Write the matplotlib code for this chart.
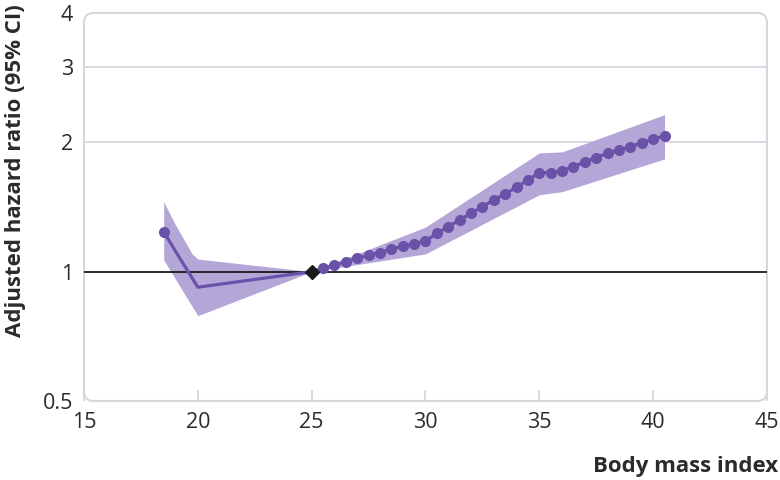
import matplotlib
matplotlib.use('Agg')
import matplotlib.pyplot as plt
from matplotlib.patches import FancyBboxPatch
from matplotlib.ticker import FixedLocator, NullLocator

# ==========================================
# DATA
# ==========================================
# underweight side: line from 18.5 down to 20 then to reference (25)
bmi_low = [18.5, 19.0, 19.5, 20.0, 25.0]
hr_low = [1.24, 1.12, 1.015, 0.92, 1.00]

# overweight side: dots every 0.5 BMI unit
bmi_high = [25.5, 26.0, 26.5, 27.0, 27.5, 28.0, 28.5, 29.0, 29.5, 30.0,
            30.5, 31.0, 31.5, 32.0, 32.5, 33.0, 33.5, 34.0, 34.5, 35.0,
            35.5, 36.0, 36.5, 37.0, 37.5, 38.0, 38.5, 39.0, 39.5, 40.0, 40.5]
hr_high = [1.018, 1.036, 1.055, 1.074, 1.092, 1.108, 1.128, 1.146, 1.162, 1.178,
           1.228, 1.273, 1.319, 1.368, 1.417, 1.469, 1.517, 1.572, 1.635, 1.700,
           1.700, 1.718, 1.756, 1.800, 1.843, 1.888, 1.920, 1.954, 1.998, 2.034, 2.070]

# confidence band knots
band_bmi = [18.5, 19.0, 19.5, 19.75, 20.0, 25.0, 30.0, 35.0, 36.0, 40.5]
band_lo = [1.065, 0.964, 0.872, 0.83, 0.79, 1.00, 1.10, 1.51, 1.535, 1.83]
band_hi = [1.455, 1.29, 1.16, 1.10, 1.07, 1.00, 1.27, 1.89, 1.90, 2.32]

ref_bmi = 25.0
ref_hr = 1.0

x_ticks = [15, 20, 25, 30, 35, 40, 45]
y_ticks = [0.5, 1, 2, 3, 4]
y_ticklabels = ['0.5', '1', '2', '3', '4']

PURPLE = '#6a52a8'
BAND = '#b4a7d8'
FRAME = '#d6d6de'
TEXT = '#2b2b2b'

plt.rcParams['font.family'] = ['Open Sans', 'DejaVu Sans']

fig = plt.figure(figsize=(7.8, 4.8), dpi=100)
ax = fig.add_axes([0.1077, 0.1646, 0.8756, 0.8083])

ax.set_yscale('log')
ax.set_xlim(15, 45)
ax.set_ylim(0.5, 4)

# band + lines
ax.fill_between(band_bmi, band_lo, band_hi, color=BAND, linewidth=0, zorder=2)
ax.plot(bmi_low, hr_low, color=PURPLE, linewidth=2.3, zorder=4)
ax.plot(bmi_low[0], hr_low[0], 'o', color=PURPLE, markersize=7, zorder=5)
ax.plot([ref_bmi] + bmi_high, [ref_hr] + hr_high, color=PURPLE, linewidth=2.3, zorder=4)
ax.plot(bmi_high, hr_high, 'o', color=PURPLE, markersize=7, zorder=5)
ax.plot(ref_bmi, ref_hr, 'D', color='#1a1a1a', markersize=7.5, zorder=6)

# reference line + gridlines
ax.axhline(1, color='#1a1a1a', linewidth=1.3, zorder=3)
for g in [2, 3]:
    ax.axhline(g, color=FRAME, linewidth=1.3, zorder=1)

# rounded frame
for s in ax.spines.values():
    s.set_visible(False)
frame = FancyBboxPatch((0, 0), 1, 1, boxstyle='round,pad=0,rounding_size=0.014',
                       mutation_aspect=683 / 388, transform=ax.transAxes,
                       facecolor='none', edgecolor=FRAME,
                       linewidth=1.5, zorder=1, clip_on=False)
ax.add_patch(frame)

# ticks
ax.xaxis.set_major_locator(FixedLocator(x_ticks))
ax.yaxis.set_major_locator(FixedLocator(y_ticks))
ax.yaxis.set_minor_locator(NullLocator())
ax.set_yticklabels(y_ticklabels)
ax.tick_params(axis='x', direction='in', length=8, width=1.3, color=FRAME,
               labelsize=15.5, labelcolor=TEXT, pad=8)
ax.tick_params(axis='y', length=0, labelsize=15.5, labelcolor=TEXT, pad=8)
for t in ax.xaxis.get_major_ticks():
    if t.get_loc() in (15, 45):
        t.tick1line.set_visible(False)

ax.set_ylabel('Adjusted hazard ratio (95% CI)', fontsize=16, fontweight='bold',
              color=TEXT)
ax.yaxis.set_label_coords(-0.085, 0.595)
fig.text(0.997, 0.006, 'Body mass index', fontsize=16, fontweight='bold',
         color=TEXT, ha='right', va='bottom')

plt.savefig('out.png', dpi=100)
plt.close(fig)
